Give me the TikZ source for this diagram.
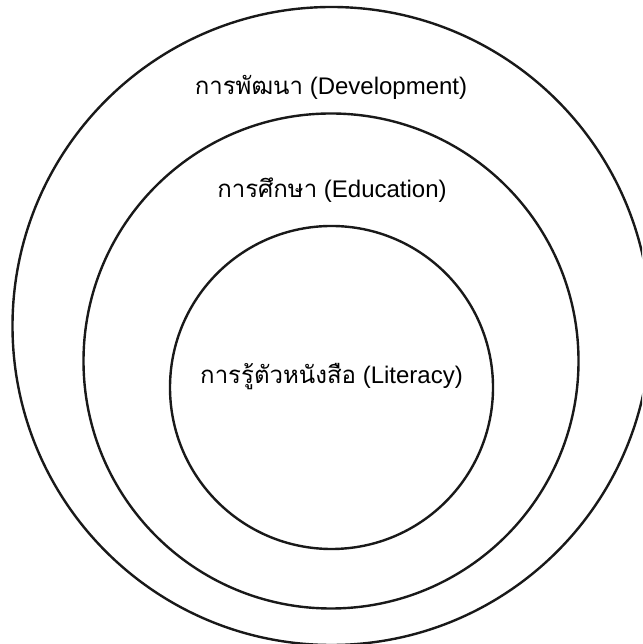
\documentclass[tikz,border=0pt]{standalone}
\usepackage{fontspec}
\setmainfont{Liberation Sans}
\newfontfamily\thaifont[Script=Thai]{Loma}
\tikzset{
  ring/.style={draw=black!90, line width=2.4pt},
  lbl/.style={anchor=base, inner sep=0pt, font=\fontsize{24}{28}\selectfont},
}
\newcommand{\thtxt}[1]{{\thaifont #1}}
\begin{document}
\begin{tikzpicture}[x=1pt,y=1pt]
  \useasboundingbox (0,0) rectangle (642,644);
  \begin{scope}
    \clip (0,0) rectangle (642,644);
    \node[ring, circle, minimum size=638pt, inner sep=0pt] (outer) at (331.5,318) {};
    \node[ring, circle, minimum size=495pt, inner sep=0pt] (middle) at (331,283) {};
    \node[ring, circle, minimum size=323pt, inner sep=0pt] (inner) at (331.5,256.5) {};
  \end{scope}
  \node[lbl] (dev) at (331,549) {\thtxt{การพัฒนา} (Development)};
  \node[lbl] (edu) at (332,446) {\thtxt{การศึกษา} (Education)};
  \node[lbl] (lit) at (331.5,260) {\thtxt{การรู้ตัวหนังสือ} (Literacy)};
\end{tikzpicture}
\end{document}
